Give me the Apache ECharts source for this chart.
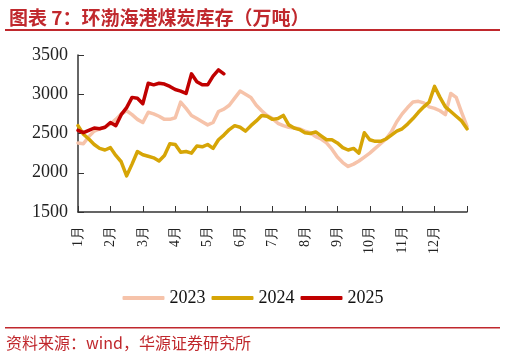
<!DOCTYPE html>
<html><head><meta charset="utf-8">
<script src="https://cdn.jsdelivr.net/npm/echarts@6/dist/echarts.min.js"></script>
<style>html,body{margin:0;padding:0;background:#fff}#c{width:506px;height:361px}</style>
</head><body><div id="c"></div>
<script>
const months = ['1月','2月','3月','4月','5月','6月','7月','8月','9月','10月','11月','12月'];
const pointsPerMonth = 6;
const yTicks = [1500, 2000, 2500, 3000, 3500];
const legendNames = ['2023', '2024', '2025'];
const s2023 = [2380,2370,2460,2530,2560,2580,2620,2680,2750,2790,2740,2680,2640,2770,2750,2720,2680,2680,2700,2900,2820,2730,2690,2650,2610,2640,2780,2810,2860,2950,3040,3000,2960,2860,2790,2730,2690,2630,2600,2580,2570,2560,2530,2510,2460,2430,2380,2300,2200,2130,2080,2110,2150,2200,2250,2310,2370,2430,2520,2650,2750,2830,2900,2910,2890,2840,2820,2790,2740,3010,2960,2770,2590];
const s2024 = [2600,2490,2430,2360,2310,2290,2320,2220,2140,1960,2110,2270,2230,2210,2190,2150,2220,2370,2360,2260,2270,2250,2340,2330,2360,2310,2420,2480,2550,2600,2580,2530,2600,2660,2730,2720,2680,2690,2730,2610,2570,2550,2510,2500,2520,2470,2420,2420,2380,2320,2290,2310,2250,2510,2420,2400,2400,2430,2480,2530,2560,2620,2690,2770,2840,2900,3100,2960,2840,2780,2720,2660,2560];
const s2025 = [2540,2510,2540,2570,2560,2580,2640,2600,2740,2830,2960,2950,2880,3140,3120,3140,3130,3100,3060,3040,3010,3260,3160,3120,3120,3230,3310,3260];

const categories = [];
for (let i = 0; i <= months.length * pointsPerMonth; i++) {
  categories.push(i % pointsPerMonth === 0 && i < months.length * pointsPerMonth ? months[i / pointsPerMonth] : '');
}
const colors = ['#f6c3aa', '#d6a506', '#c00000'];
const chart = echarts.init(document.getElementById('c'));
const serif = 'Liberation Serif';
function mk(name, data, color, z) {
  return { name, type: 'line', data, symbol: 'none', smooth: false, z,
    lineStyle: { color, width: 3.5, join: 'round', cap: 'round' }, itemStyle: { color } };
}
chart.setOption({
  animation: false,
  backgroundColor: '#fff',
  title: { text: '图表 7：环渤海港煤炭库存（万吨）', left: 4, top: 3,
    textStyle: { fontFamily: 'Noto Sans CJK SC', fontSize: 19, fontWeight: 'bold', color: '#c0282d' } },
  grid: { left: 78, right: 39, top: 55, bottom: 149 },
  legend: { data: legendNames, top: 284, left: 'center', itemWidth: 42, itemHeight: 4, itemGap: 6,
    icon: 'roundRect',
    textStyle: { fontFamily: serif, fontSize: 18, color: '#111' } },
  xAxis: { type: 'category', data: categories, boundaryGap: false,
    axisLine: { lineStyle: { color: '#333', width: 1.5 } },
    axisTick: { inside: true, interval: pointsPerMonth - 1, length: 6, lineStyle: { color: '#333' } },
    axisLabel: { interval: pointsPerMonth - 1, rotate: 90, fontFamily: serif, fontSize: 14, color: '#222', margin: 14 } },
  yAxis: { type: 'value', min: yTicks[0], max: yTicks[yTicks.length - 1], interval: 500,
    splitLine: { show: false },
    axisLine: { show: true, lineStyle: { color: '#333', width: 1.5 } },
    axisTick: { show: true, inside: true, length: 6, lineStyle: { color: '#333' } },
    axisLabel: { fontFamily: serif, fontSize: 18, color: '#222', margin: 10, formatter: v => String(v) } },
  series: [mk('2023', s2023, colors[0], 1), mk('2024', s2024, colors[1], 2), mk('2025', s2025, colors[2], 3)],
  graphic: [
    { type: 'rect', shape: { x: 5, y: 29, width: 495, height: 2 }, style: { fill: '#c0282d' } },
    { type: 'rect', shape: { x: 5, y: 327, width: 495, height: 1.5 }, style: { fill: '#c0282d' } },
    { type: 'text', left: 6, top: 335, style: { text: '资料来源：wind，华源证券研究所', fill: '#c0282d',
      font: '16px "Noto Sans CJK SC"' } }
  ]
});
</script></body></html>
